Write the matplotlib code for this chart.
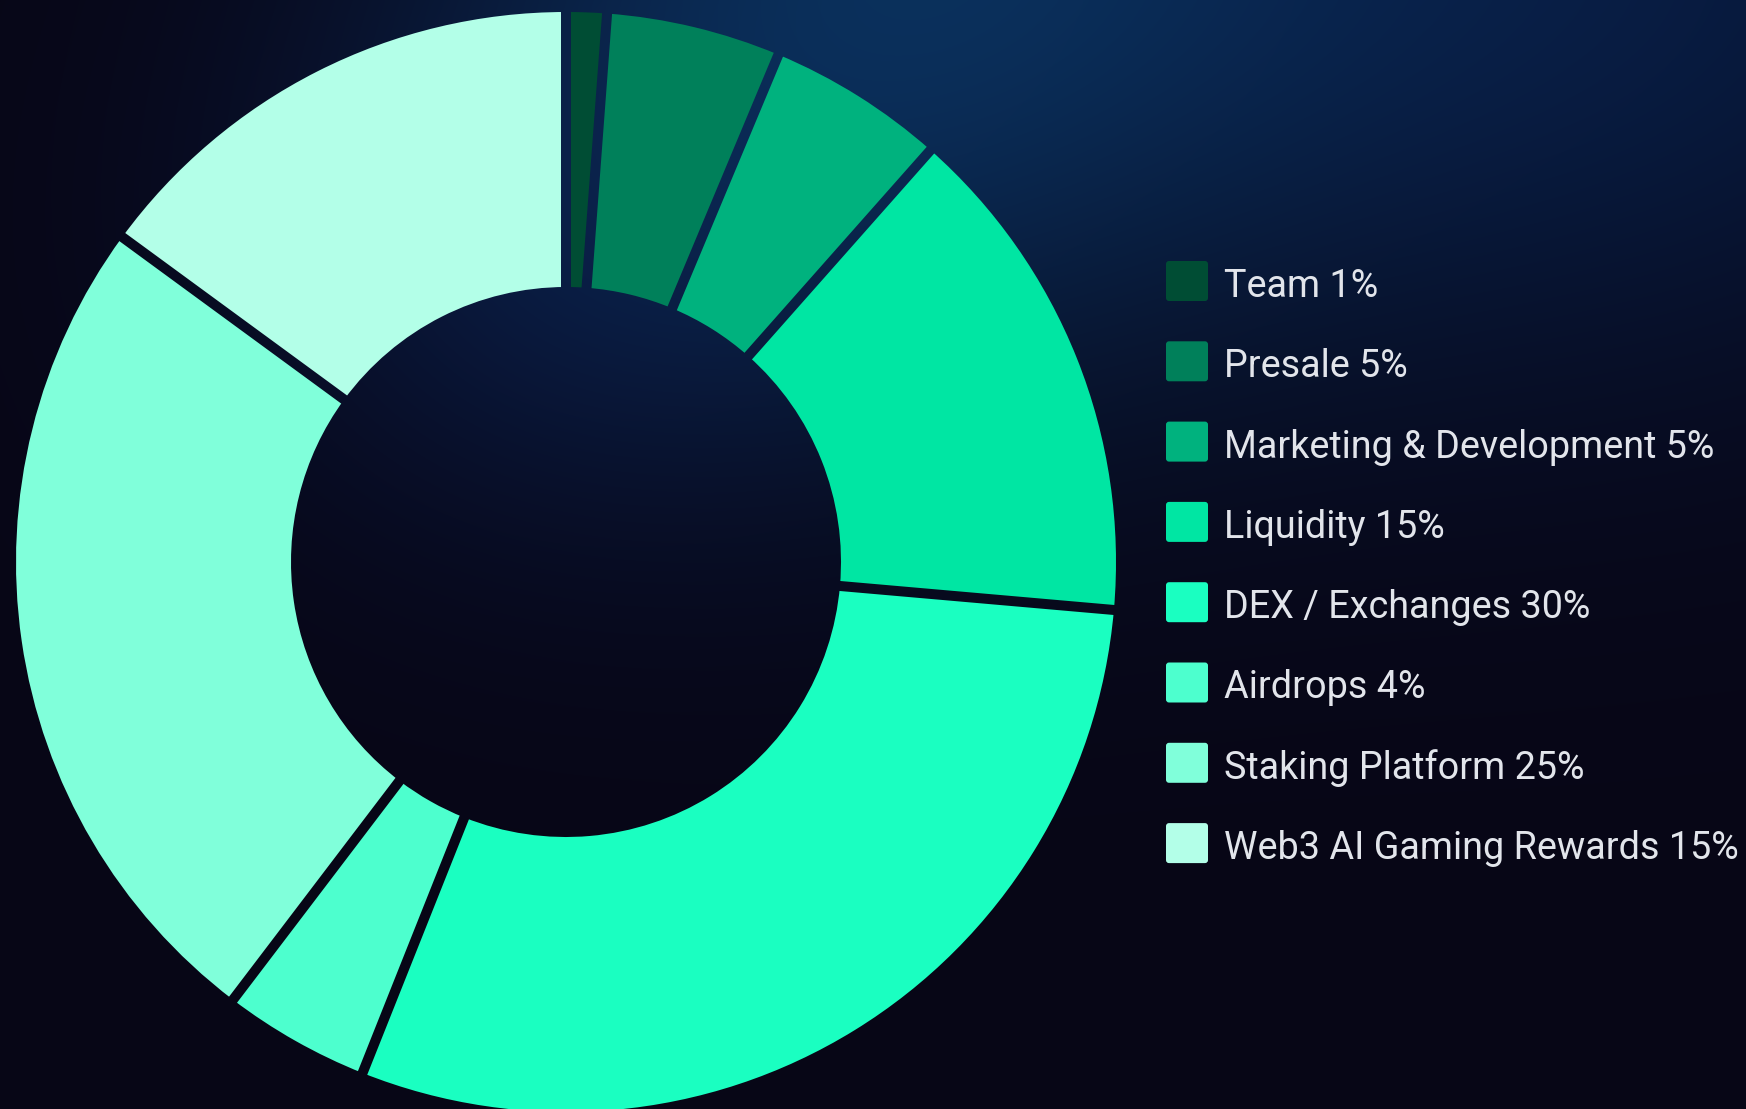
import numpy as np
import matplotlib
matplotlib.use("Agg")
import matplotlib.pyplot as plt
from matplotlib.patches import FancyBboxPatch, PathPatch
from matplotlib.path import Path

# ---- data ----
categories = ["Team", "Presale", "Marketing & Development", "Liquidity",
              "DEX / Exchanges", "Airdrops", "Staking Platform", "Web3 AI Gaming Rewards"]
values = [1, 5, 5, 15, 30, 4, 25, 15]          # percentages shown in the legend
slice_sizes = [1.19, 5.12, 5.22, 14.86, 29.64, 4.32, 24.71, 14.94]  # sizes
colors = ["#004d34", "#00805a", "#00b27e", "#00e6a3",
          "#1affc1", "#4dffce", "#80ffda", "#b3ffe8"]

W, H = 1746, 1109
DPI = 100
fig = plt.figure(figsize=(W / DPI, H / DPI), dpi=DPI)
ax = fig.add_axes([0, 0, 1, 1])

# ---- background gradient ----
yy, xx = np.mgrid[0:H, 0:W].astype(float)  # yy = pixel row from top
base = np.array([7, 6, 22], float)
g1 = np.exp(-(((xx - 880) / 430) ** 2 + ((yy + 60) / 420) ** 2))
g2 = np.exp(-(((xx - 1550) / 600) ** 2 + ((yy + 40) / 420) ** 2))
g3 = np.exp(-(((xx - 560) / 350) ** 2 + ((yy - 250) / 300) ** 2))
bg = (base[None, None, :]
      + g1[..., None] * np.array([3, 34, 52])[None, None, :]
      + g2[..., None] * np.array([1, 22, 44])[None, None, :]
      + g3[..., None] * np.array([2, 12, 28])[None, None, :])
bg = np.clip(bg, 0, 255) / 255.0
extent = (0, W, 0, H)
ax.imshow(bg, extent=extent, origin="upper", zorder=0, interpolation="bilinear")

# ---- donut ----
cx, cy = 566, H - 562
R_out, R_in = 550, 275
wedges, _ = ax.pie(slice_sizes, colors=colors, startangle=90, counterclock=False,
                   center=(cx, cy), radius=R_out,
                   wedgeprops=dict(width=R_out - R_in, edgecolor="none", linewidth=0))
for w in wedges:
    w.set_zorder(2)

# gaps between slices: show the background through thin radial bands
gap = 10.0
cum = np.cumsum([0] + slice_sizes[:-1]) / float(sum(slice_sizes))
paths = []
for f in cum:
    ang = np.deg2rad(90 - 360 * f)
    ux, uy = np.cos(ang), np.sin(ang)
    px, py = -uy, ux
    L = R_out + 20
    pts = [(cx + px * gap / 2, cy + py * gap / 2),
           (cx + px * gap / 2 + ux * L, cy + py * gap / 2 + uy * L),
           (cx - px * gap / 2 + ux * L, cy - py * gap / 2 + uy * L),
           (cx - px * gap / 2, cy - py * gap / 2),
           (cx + px * gap / 2, cy + py * gap / 2)]
    paths.append(Path(pts, [Path.MOVETO, Path.LINETO, Path.LINETO, Path.LINETO, Path.CLOSEPOLY]))
gap_path = Path.make_compound_path(*paths)
gap_patch = PathPatch(gap_path, transform=ax.transData, facecolor="none", edgecolor="none")
im2 = ax.imshow(bg, extent=extent, origin="upper", zorder=3, interpolation="bilinear")
im2.set_clip_path(gap_patch)

# ---- legend ----
leg_x = 1166
sw_w, sw_h = 42, 40
row0 = 281
row_step = 80.3
text_x = 1224
for i, (name, v, c) in enumerate(zip(categories, values, colors)):
    yc = H - (row0 + i * row_step)
    box = FancyBboxPatch((leg_x, yc - sw_h / 2), sw_w, sw_h,
                         boxstyle="round,pad=0,rounding_size=3",
                         facecolor=c, edgecolor="none", zorder=4)
    ax.add_patch(box)
    ax.text(text_x, yc - 16, f"{name} {v}%", color="#e2e5eb", fontsize=27.2,
            family="Roboto", ha="left", va="baseline", zorder=5)

ax.set_xlim(0, W)
ax.set_ylim(0, H)
ax.set_aspect("auto")
ax.axis("off")
fig.savefig("out.png", dpi=DPI, facecolor="#07061a")
